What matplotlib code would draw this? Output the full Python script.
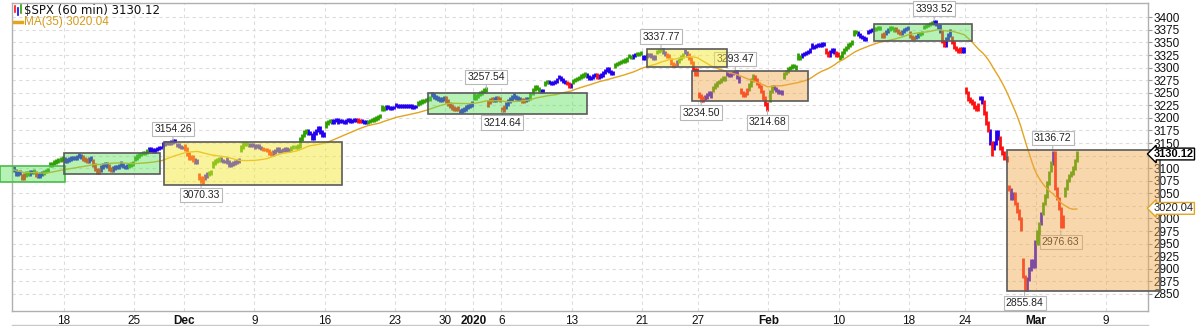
import matplotlib
matplotlib.use("Agg")
import matplotlib.pyplot as plt
import pandas as pd
from matplotlib.lines import Line2D
from matplotlib.patches import Rectangle

# --------------------------------------------------------------------------- #
# Data: hourly closes per trading day (open first)
# --------------------------------------------------------------------------- #
days = [
    "2019-11-12", "2019-11-13", "2019-11-14", "2019-11-15",
    "2019-11-18", "2019-11-19", "2019-11-20", "2019-11-21", "2019-11-22",
    "2019-11-25", "2019-11-26", "2019-11-27", "2019-11-29",
    "2019-12-02", "2019-12-03", "2019-12-04", "2019-12-05", "2019-12-06",
    "2019-12-09", "2019-12-10", "2019-12-11", "2019-12-12", "2019-12-13",
    "2019-12-16", "2019-12-17", "2019-12-18", "2019-12-19", "2019-12-20",
    "2019-12-23", "2019-12-24", "2019-12-26", "2019-12-27",
    "2019-12-30", "2019-12-31", "2020-01-02", "2020-01-03",
    "2020-01-06", "2020-01-07", "2020-01-08", "2020-01-09", "2020-01-10",
    "2020-01-13", "2020-01-14", "2020-01-15", "2020-01-16", "2020-01-17",
    "2020-01-21", "2020-01-22", "2020-01-23", "2020-01-24",
    "2020-01-27", "2020-01-28", "2020-01-29", "2020-01-30", "2020-01-31",
    "2020-02-03", "2020-02-04", "2020-02-05", "2020-02-06", "2020-02-07",
    "2020-02-10", "2020-02-11", "2020-02-12", "2020-02-13", "2020-02-14",
    "2020-02-18", "2020-02-19", "2020-02-20", "2020-02-21",
    "2020-02-24", "2020-02-25", "2020-02-26", "2020-02-27", "2020-02-28",
    "2020-03-02", "2020-03-03", "2020-03-04",
]
future_days = ["2020-03-05", "2020-03-06", "2020-03-09", "2020-03-10",
               "2020-03-11", "2020-03-12"]

opens = [
    3089, 3084, 3091, 3108,
    3118, 3127, 3114, 3108, 3111,
    3117, 3135, 3145, 3147,
    3144, 3087, 3104, 3119, 3135,
    3142, 3135, 3136, 3141, 3167,
    3184, 3195, 3195, 3192, 3223,
    3226, 3225, 3227, 3247,
    3240, 3215, 3245, 3226,
    3218, 3242, 3239, 3266, 3282,
    3271, 3285, 3282, 3303, 3324,
    3321, 3330, 3316, 3333,
    3247, 3255, 3289, 3256, 3282,
    3236, 3281, 3325, 3345, 3336,
    3318, 3366, 3370, 3366, 3378,
    3369, 3380, 3380, 3360,
    3257, 3239, 3140, 3063, 2917,
    2974, 3096, 3046,
]

closes = [
    [3092, 3098, 3101, 3095, 3088, 3090, 3092],
    [3080, 3086, 3090, 3088, 3092, 3091, 3094],
    [3086, 3084, 3088, 3090, 3093, 3095, 3097],
    [3106, 3109, 3112, 3114, 3116, 3118, 3120],
    [3114, 3116, 3118, 3120, 3121, 3119, 3122],
    [3124, 3122, 3118, 3116, 3114, 3118, 3120],
    [3106, 3097, 3092, 3096, 3102, 3106, 3108],
    [3104, 3098, 3096, 3100, 3102, 3101, 3104],
    [3106, 3103, 3102, 3104, 3106, 3108, 3110],
    [3120, 3124, 3127, 3129, 3130, 3131, 3134],
    [3138, 3136, 3134, 3137, 3139, 3141, 3141],
    [3148, 3150, 3151, 3150, 3152, 3154, 3153],
    [3146, 3143, 3141, 3141],
    [3138, 3128, 3120, 3122, 3116, 3112, 3114],
    [3080, 3072, 3080, 3084, 3088, 3090, 3093],
    [3110, 3114, 3116, 3118, 3115, 3113, 3113],
    [3112, 3106, 3108, 3110, 3112, 3114, 3117],
    [3142, 3148, 3149, 3147, 3146, 3145, 3146],
    [3145, 3144, 3141, 3139, 3137, 3137, 3136],
    [3130, 3128, 3132, 3135, 3138, 3134, 3133],
    [3136, 3138, 3135, 3137, 3141, 3142, 3142],
    [3144, 3158, 3165, 3172, 3174, 3170, 3169],
    [3160, 3170, 3175, 3180, 3172, 3165, 3169],
    [3190, 3193, 3194, 3192, 3195, 3196, 3191],
    [3194, 3193, 3192, 3195, 3196, 3194, 3193],
    [3197, 3196, 3193, 3194, 3193, 3192, 3191],
    [3193, 3195, 3196, 3198, 3200, 3203, 3205],
    [3218, 3220, 3222, 3221, 3219, 3221, 3221],
    [3225, 3224, 3223, 3224, 3225, 3224, 3224],
    [3224, 3222, 3223, 3223],
    [3230, 3232, 3234, 3235, 3237, 3238, 3240],
    [3245, 3242, 3240, 3238, 3236, 3238, 3240],
    [3234, 3228, 3224, 3220, 3218, 3217, 3221],
    [3214, 3216, 3218, 3222, 3224, 3226, 3231],
    [3240, 3244, 3246, 3249, 3252, 3255, 3258],
    [3232, 3236, 3238, 3236, 3240, 3238, 3235],
    [3216, 3222, 3228, 3234, 3238, 3242, 3246],
    [3240, 3238, 3237, 3234, 3236, 3238, 3237],
    [3248, 3256, 3262, 3258, 3254, 3252, 3253],
    [3270, 3272, 3270, 3268, 3270, 3272, 3275],
    [3280, 3276, 3272, 3270, 3268, 3262, 3265],
    [3274, 3276, 3278, 3280, 3283, 3285, 3288],
    [3282, 3278, 3280, 3284, 3286, 3280, 3283],
    [3285, 3290, 3294, 3297, 3292, 3288, 3289],
    [3306, 3308, 3310, 3312, 3313, 3315, 3317],
    [3322, 3320, 3324, 3326, 3327, 3328, 3330],
    [3318, 3322, 3325, 3326, 3322, 3318, 3321],
    [3332, 3334, 3336, 3330, 3326, 3323, 3322],
    [3308, 3304, 3306, 3312, 3318, 3322, 3326],
    [3330, 3325, 3318, 3310, 3296, 3286, 3295],
    [3244, 3236, 3240, 3242, 3246, 3250, 3244],
    [3260, 3265, 3270, 3272, 3276, 3280, 3276],
    [3286, 3284, 3288, 3290, 3291, 3280, 3273],
    [3250, 3245, 3248, 3256, 3265, 3275, 3284],
    [3276, 3268, 3262, 3252, 3240, 3228, 3218],
    [3252, 3262, 3258, 3254, 3250, 3252, 3249],
    [3288, 3292, 3298, 3300, 3304, 3302, 3298],
    [3318, 3322, 3326, 3328, 3330, 3332, 3335],
    [3340, 3342, 3344, 3346, 3345, 3347, 3346],
    [3330, 3325, 3332, 3336, 3330, 3325, 3328],
    [3322, 3330, 3336, 3340, 3345, 3348, 3352],
    [3372, 3370, 3366, 3362, 3360, 3356, 3358],
    [3372, 3374, 3376, 3377, 3378, 3380, 3379],
    [3362, 3368, 3372, 3376, 3380, 3378, 3374],
    [3374, 3370, 3368, 3372, 3376, 3378, 3380],
    [3362, 3358, 3360, 3362, 3366, 3368, 3370],
    [3382, 3384, 3386, 3388, 3389, 3392, 3386],
    [3384, 3372, 3352, 3345, 3358, 3365, 3373],
    [3350, 3340, 3336, 3332, 3338, 3332, 3338],
    [3250, 3238, 3234, 3230, 3222, 3218, 3226],
    [3240, 3232, 3210, 3190, 3175, 3150, 3128],
    [3150, 3172, 3160, 3140, 3130, 3120, 3116],
    [3058, 3040, 3050, 3030, 3015, 3000, 2979],
    [2885, 2860, 2880, 2900, 2915, 2905, 2954],
    [2950, 2990, 3010, 3030, 3045, 3070, 3090],
    [3110, 3130, 3060, 3040, 3020, 2985, 3003],
    [3060, 3075, 3085, 3090, 3100, 3115, 3130],
]

# impulse colour of each hourly bar: G green, B blue, R red
impulse = [
    "GGGBBBB", "RRGGBBG", "RBBBGGG", "GGGGGGG",
    "BBBBBBB", "BBRRRBB", "RRRRBBB", "BRRBBBB", "BBBBGGG",
    "GGGGGGG", "BBBBBBB", "BBBBBBB", "BBBB",
    "RRRRRBB", "RRRBBGG", "GGGGBBB", "BBBBBBB", "GGGGBBB",
    "BBBBRRR", "RRBBBBB", "BBBBGGG", "GGGGGBB", "BBBBBBB",
    "GGGBBBB", "BBBBBBB", "BBRRBBB", "GGGGGGG", "GGBBBBB",
    "BBBBBBB", "BBBB", "GGGGGGG", "BBBBBBB",
    "RRRRRRR", "BBBBBBB", "GGGGGGG", "RRRBBRR",
    "RRBBBBB", "BBBRRBB", "GGGGGBB", "GGBBBBB", "BBBBRRB",
    "GGGGGGG", "BBBBBRB", "BBBBBBB", "GGGGGGG", "GGBBGGG",
    "BBBBBBB", "GGGBBRR", "RRRBGGG", "BBRRRRR",
    "RRRBBBB", "GGGGGGG", "BBBBBBB", "RRRRGGG", "RRRRRRR",
    "GGBBBBB", "GGGGGGG", "GGBBBBB", "BBBBBBB", "RRBBBRR",
    "GGGGGGG", "GGBBBBB", "BBBGGGG", "RRBBGGG", "RRRBBBB",
    "RRRBBGG", "GGGGGBB", "BBRRBBB", "RRRRRBB",
    "RRRRRRR", "BBRRRBR", "BBBRRRR", "RBBRRRR", "RRBBBBB",
    "GGBGGGG", "GBRRRRR", "GGGGGGG",
]

tick_days = ["2019-11-18", "2019-11-25", "2019-12-02", "2019-12-09", "2019-12-16",
             "2019-12-23", "2019-12-30", "2020-01-02", "2020-01-06", "2020-01-13",
             "2020-01-21", "2020-01-27", "2020-02-03", "2020-02-10", "2020-02-18",
             "2020-02-24", "2020-03-02", "2020-03-09"]
tick_labels = ["18", "25", "Dec", "9", "16", "23", "30", "2020", "6", "13",
               "21", "27", "Feb", "10", "18", "24", "Mar", "9"]

# labelled highs / lows: (day, bar within day, value, +1 above / -1 below)
ann_days = ["2019-11-27", "2019-12-03", "2020-01-02", "2020-01-06", "2020-01-22",
            "2020-01-27", "2020-01-29", "2020-01-31", "2020-02-19", "2020-02-28",
            "2020-03-03", "2020-03-03"]
ann_bars = [5, 1, 6, 0, 2, 1, 4, 6, 5, 1, 1, 5]
ann_values = [3154.26, 3070.33, 3257.54, 3214.64, 3337.77, 3234.50, 3293.47,
              3214.68, 3393.52, 2855.84, 3136.72, 2976.63]
ann_side = [1, -1, 1, -1, 1, -1, 1, -1, 1, -1, 1, -1]

# range boxes: start/end (day, bar offset), price low/high, colour kind
box_start = [("2019-11-12", -3.6), ("2019-11-18", 0.2), ("2019-11-27", 1.0),
             ("2019-12-26", 5.5), ("2020-01-21", 2.5), ("2020-01-24", 3.9),
             ("2020-02-12", 3.5), ("2020-02-26", 6.7)]
box_end = [("2019-11-18", 0.7), ("2019-11-26", 6.0), ("2019-12-17", 1.6),
           ("2020-01-14", 0.6), ("2020-01-29", 0.3), ("2020-02-05", 5.6),
           ("2020-02-24", 3.3), ("2020-03-12", 6.0)]
box_low = [3072.6, 3088.5, 3066.6, 3207.8, 3301.2, 3233.6, 3352.9, 2855.84]
box_high = [3104.4, 3130.2, 3152.1, 3249.5, 3337.0, 3293.2, 3386.7, 3136.72]
box_kind = ["g", "g", "y", "g", "y", "o", "g", "o"]

last_close = 3130.12
last_ma = 3020.04

# --------------------------------------------------------------------------- #
# Build hourly bar table on a trading-hour axis (no weekend gaps)
# --------------------------------------------------------------------------- #
rows = []
day_start = {}
pos = 0
for d, o, cl, imp in zip(days, opens, closes, impulse):
    day_start[d] = pos
    prev = o
    for k, (c, col) in enumerate(zip(cl, imp)):
        rows.append((pos + k + 0.5, prev, c, col))
        prev = c
    pos += len(cl)
for d in future_days:
    day_start[d] = pos
    pos += 7
bars = pd.DataFrame(rows, columns=["x", "open", "close", "impulse"])
bars["ma"] = bars["close"].rolling(35, min_periods=1).mean()
bars["lo"] = bars[["open", "close"]].min(axis=1) - 3.5
bars["hi"] = bars[["open", "close"]].max(axis=1) + 3.5

W, H = 1201, 326
fig = plt.figure(figsize=(W / 100, H / 100), dpi=100)
ax = fig.add_axes([11.5 / W, 15 / H, 1136 / W, 308 / H])

NARROW = ["Liberation Sans Narrow", "Liberation Sans", "DejaVu Sans"]

bar_colors = {"G": "#2ea000", "B": "#2200ee", "R": "#ff1010"}
for code, grp in bars.groupby("impulse"):
    ax.vlines(grp["x"], grp["lo"], grp["hi"], color=bar_colors[code],
              linewidth=2.0, zorder=2)

ax.plot(bars["x"], bars["ma"], color="#e3a41f", linewidth=1.0, zorder=2.5)

# labelled extremes
for d, b, v, s in zip(ann_days, ann_bars, ann_values, ann_side):
    ax.annotate(f"{v:.2f}", xy=(day_start[d] + b + 0.5, v),
                xytext=(0, 12 * s), textcoords="offset pixels",
                ha="center", va="center", fontsize=7.5, family=NARROW,
                color="#222222", zorder=3,
                bbox=dict(boxstyle="square,pad=0.2", fc="white", ec="#b8b8b8", lw=0.8),
                arrowprops=dict(arrowstyle="-", color="#b8b8b8", lw=0.8,
                                shrinkA=0, shrinkB=0))

# range boxes drawn over the bars
box_face = {"g": ("#5ee05e", 0.45), "y": ("#f5ea3a", 0.5), "o": ("#f0a848", 0.45)}
for (d0, b0), (d1, b1), lo, hi, kind in zip(box_start, box_end, box_low,
                                             box_high, box_kind):
    x0 = day_start[d0] + b0
    x1 = day_start[d1] + b1
    fc, a = box_face[kind]
    ax.add_patch(Rectangle((x0, lo), x1 - x0, hi - lo, facecolor=fc, alpha=a,
                           edgecolor="none", zorder=4, clip_on=False))
    edge = "#4cbb4c" if (kind == "g" and d0 == days[0]) else "#5a5a5a"
    ax.add_patch(Rectangle((x0, lo), x1 - x0, hi - lo, facecolor="none",
                           edgecolor=edge, linewidth=1.2, zorder=4.1, clip_on=False))

# axes, ticks and grid
ax.set_xlim(2.1, day_start["2020-03-09"] + 20.7)
ax.set_ylim(2816, 3428.4)
yticks = list(range(2850, 3401, 25))
ax.set_yticks(yticks)
# the two value tags sit on top of these levels, as in the source chart
ax.set_yticklabels(["" if t in (3125, 3025) else str(t) for t in yticks])
ax.yaxis.tick_right()
ax.tick_params(axis="y", length=3, width=0.8, color="#999999", pad=1,
               labelsize=8.5, labelcolor="#111111")
for lab in ax.get_yticklabels():
    lab.set_family(NARROW)

ax.set_xticks([day_start[d] for d in tick_days])
ax.set_xticklabels(tick_labels)
ax.tick_params(axis="x", length=0, pad=3, labelsize=8.5, labelcolor="#111111")
for lab in ax.get_xticklabels():
    lab.set_family(NARROW)
    if lab.get_text() in ("Dec", "2020", "Feb", "Mar"):
        lab.set_fontweight("bold")

ax.grid(True, color="#dcdcdc", linestyle=(0, (3, 3)), linewidth=0.8, zorder=0)
ax.set_axisbelow(True)
for sp in ax.spines.values():
    sp.set_color("#b0b0b0")
    sp.set_linewidth(1.0)

# right-hand value tags
ax.annotate(f"{last_close:.2f}", xy=(1.0, last_close), xycoords=("axes fraction", "data"),
            xytext=(6, -1), textcoords="offset pixels", ha="left", va="center",
            fontsize=8, fontweight="bold", family=NARROW, color="black",
            annotation_clip=False, zorder=6,
            bbox=dict(boxstyle="larrow,pad=0.08", fc="white", ec="black", lw=1.0))
ax.annotate(f"{last_ma:.2f}", xy=(1.0, last_ma), xycoords=("axes fraction", "data"),
            xytext=(6, 0), textcoords="offset pixels", ha="left", va="center",
            fontsize=8, family=NARROW, color="#222222",
            annotation_clip=False, zorder=6,
            bbox=dict(boxstyle="larrow,pad=0.08", fc="white", ec="#e3a41f", lw=1.0))

# legend in the top-left corner
fig.add_artist(Line2D([15 / W, 15 / W], [1 - 6 / H, 1 - 12 / H], color="#ff1010", lw=1.2))
fig.add_artist(Line2D([18 / W, 18 / W], [1 - 8 / H, 1 - 15 / H], color="#2200ee", lw=1.2))
fig.add_artist(Line2D([21 / W, 21 / W], [1 - 5 / H, 1 - 13 / H], color="#2ea000", lw=1.2))
fig.text(24 / W, 1 - 11 / H, r"\$SPX (60 min) 3130.12", fontsize=8.5,
         family="DejaVu Sans", color="#111111", va="center", ha="left")
fig.add_artist(Line2D([14 / W, 22 / W], [1 - 22 / H, 1 - 22 / H], color="#e3a41f", lw=2.5))
fig.text(24 / W, 1 - 22 / H, f"MA(35) {last_ma:.2f}", fontsize=8.5, family=NARROW,
         color="#d59a1c", va="center", ha="left")

# bottom rule under the date labels
fig.add_artist(Line2D([11.5 / W, 1147.5 / W], [1 - 324.5 / H, 1 - 324.5 / H],
                      color="#c8c8c8", lw=1.0))

fig.savefig("out.png", dpi=100)
